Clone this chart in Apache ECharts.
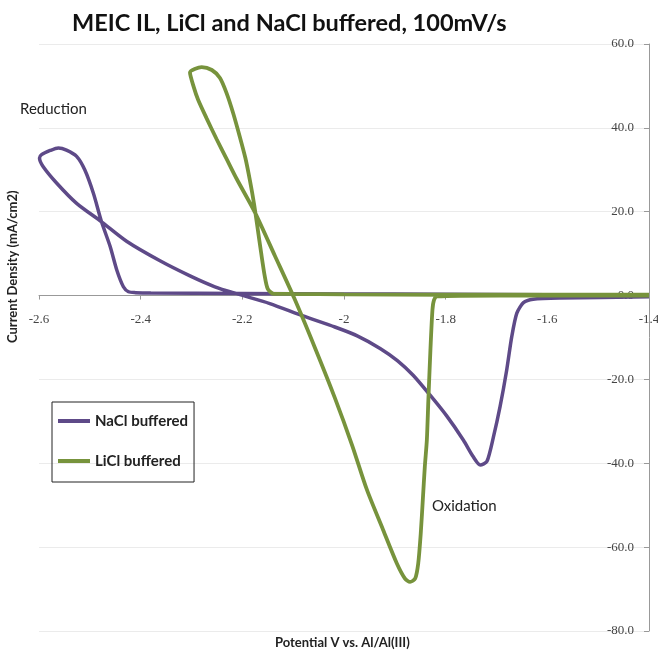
<!DOCTYPE html>
<html>
<head>
<meta charset="utf-8">
<script src="https://cdn.jsdelivr.net/npm/echarts@6/dist/echarts.min.js"></script>
<style>
  html, body { margin: 0; padding: 0; background: #fff; }
  #chart { width: 658px; height: 652px; }
</style>
</head>
<body>
<div id="chart"></div>
<script>
// Cyclic voltammograms: potential (V vs. Al/Al(III)) and current density (mA/cm2)
const naclPotential = [
  -1.400, -1.600, -1.800, -2.000, -2.200, -2.380, -2.410,
  -2.424, -2.434, -2.447, -2.460, -2.477, -2.493, -2.510, -2.526, -2.546, -2.562, -2.578, -2.595, -2.599,
  -2.592, -2.565, -2.526, -2.477, -2.427, -2.362, -2.303, -2.254, -2.210, -2.146, -2.082, -2.018, -1.974,
  -1.929, -1.895, -1.864, -1.831, -1.798, -1.765, -1.746, -1.732, -1.719, -1.706, -1.693, -1.680, -1.670,
  -1.660, -1.647, -1.628, -1.575, -1.400
];
const naclCurrent = [
  0.1, 0.2, 0.3, 0.4, 0.5, 0.6, 0.7,
  0.9, 2.1, 6.1, 11.7, 17.6, 24.4, 30.0, 33.2, 34.7, 35.2, 34.6, 33.6, 32.8,
  30.8, 26.8, 22.0, 17.6, 12.9, 8.3, 4.7, 2.1, 0.4, -1.9, -4.8, -7.5, -9.6,
  -12.6, -15.5, -19.0, -23.7, -28.7, -34.5, -38.4, -40.4, -39.6, -33.7, -26.5, -17.8, -9.8,
  -4.2, -1.7, -0.9, -0.6, -0.3
];

const liclPotential = [
  -1.400, -1.600, -1.800, -2.000, -2.100, -2.138, -2.150, -2.156, -2.163, -2.170, -2.177, -2.185,
  -2.194, -2.205, -2.218, -2.231, -2.244, -2.260, -2.280, -2.303,
  -2.296, -2.287, -2.270, -2.251, -2.231, -2.211, -2.175, -2.136, -2.098, -2.057, -2.018, -1.984,
  -1.955, -1.923, -1.896, -1.880, -1.870, -1.860, -1.854, -1.849, -1.845, -1.841, -1.837, -1.834,
  -1.830, -1.826, -1.823, -1.817, -1.693, -1.400
];
const liclCurrent = [
  0.2, 0.2, 0.2, 0.3, 0.4, 0.4, 1.6, 4.7, 10.2, 16.1, 21.9, 27.4,
  32.8, 37.9, 43.5, 48.3, 51.9, 53.8, 54.5, 53.2,
  49.9, 46.7, 42.2, 37.4, 32.6, 27.8, 19.8, 9.5, -0.6, -12.5, -24.4, -35.7,
  -46.3, -55.9, -63.9, -67.5, -68.3, -67.5, -63.9, -56.7, -48.8, -40.8, -34.4, -24.8,
  -13.0, -3.4, -1.1, -0.2, 0.0, 0.0
];

const seriesNames = ['NaCl buffered', 'LiCl buffered'];
const seriesColors = ['#5e4a88', '#77933c'];
const xTicks = { min: -2.6, max: -1.4, step: 0.2 };
const yTicks = { min: -80, max: 60, step: 20 };

const zip = (xs, ys) => xs.map((x, i) => [x, ys[i]]);

// plot rectangle
const gridBox = { left: 39, right: 9, top: 44, bottom: 21 };
const plotHeight = 652 - gridBox.top - gridBox.bottom;
// the potential axis sits on the zero-current line
const zeroFromBottom = plotHeight * (0 - yTicks.min) / (yTicks.max - yTicks.min);

const chart = echarts.init(document.getElementById('chart'), null, { renderer: 'canvas' });

const tickFont = { fontFamily: 'Liberation Serif', fontSize: 13, color: '#444' };

chart.setOption({
  animation: false,
  backgroundColor: '#fff',
  title: {
    text: 'MEIC IL, LiCl and NaCl buffered, 100mV/s',
    left: 67, top: 6,
    textStyle: { fontFamily: 'Lato', fontWeight: 'bold', fontSize: 23.5, color: '#111' }
  },
  grid: Object.assign({ outerBoundsMode: 'none', containLabel: false }, gridBox),
  legend: {
    orient: 'vertical',
    left: 52, top: 402,
    data: seriesNames,
    icon: 'rect',
    itemWidth: 32, itemHeight: 4,
    itemGap: 24,
    padding: [11, 6, 13, 6],
    borderColor: '#222', borderWidth: 1,
    textStyle: { fontFamily: 'Lato', fontWeight: 'bold', fontSize: 15, lineHeight: 16, color: '#222' }
  },
  xAxis: {
    type: 'value',
    position: 'bottom',
    offset: -zeroFromBottom,
    min: xTicks.min, max: xTicks.max, interval: xTicks.step,
    axisLine: { onZero: false, lineStyle: { color: '#999', width: 1 } },
    axisTick: { show: true, length: 4, lineStyle: { color: '#999' } },
    axisLabel: Object.assign({ margin: 18, formatter: v => String(+v.toFixed(1)) }, tickFont),
    splitLine: { show: false }
  },
  yAxis: {
    type: 'value',
    position: 'right',
    min: yTicks.min, max: yTicks.max, interval: yTicks.step,
    axisLine: { show: true, onZero: false, lineStyle: { color: '#999', width: 1 } },
    axisTick: { show: true, inside: true, length: 5, lineStyle: { color: '#999' } },
    axisLabel: Object.assign({ inside: true, margin: 15, formatter: v => v.toFixed(1) }, tickFont),
    splitLine: { show: true, lineStyle: { color: '#ebebeb', width: 1 } }
  },
  graphic: [
    {
      type: 'text', x: 6, y: 343, rotation: Math.PI / 2,
      style: { text: 'Current Density (mA/cm2)', font: 'bold 13px Lato', fill: '#222' }
    },
    {
      type: 'text', left: 275, top: 636,
      style: { text: 'Potential V vs. Al/Al(III)', font: 'bold 13px Lato', fill: '#222' }
    },
    {
      type: 'text', left: 20, top: 102,
      style: { text: 'Reduction', font: '15px Lato', fill: '#222' }
    },
    {
      type: 'text', left: 432, top: 499,
      style: { text: 'Oxidation', font: '15px Lato', fill: '#222' }
    }
  ],
  series: [
    {
      name: seriesNames[0], type: 'line', showSymbol: false, symbol: 'none',
      smooth: 0.25,
      data: zip(naclPotential, naclCurrent),
      lineStyle: { color: seriesColors[0], width: 3.5 },
      itemStyle: { color: seriesColors[0] }
    },
    {
      name: seriesNames[1], type: 'line', showSymbol: false, symbol: 'none',
      smooth: 0.25,
      data: zip(liclPotential, liclCurrent),
      lineStyle: { color: seriesColors[1], width: 3.8 },
      itemStyle: { color: seriesColors[1] }
    }
  ]
});
</script>
</body>
</html>
